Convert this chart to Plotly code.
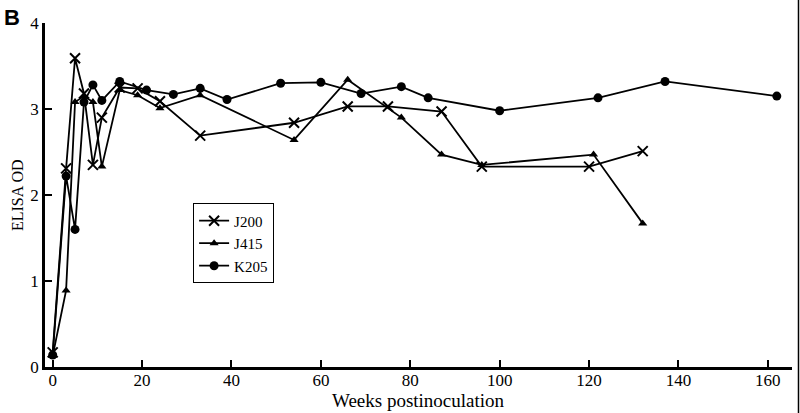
import plotly.graph_objects as go

# J200 (x markers)
j200_weeks = [0, 3, 5, 7, 9, 11, 15, 19, 24, 33, 54, 66, 75, 87, 96, 120, 132]
j200_od = [0.17, 2.31, 3.59, 3.18, 2.35, 2.90, 3.25, 3.24, 3.09, 2.69, 2.84, 3.03, 3.03, 2.97, 2.33, 2.33, 2.51]

# J415 (triangles)
j415_weeks = [0, 3, 5, 7, 9, 11, 15, 19, 24, 33, 54, 66, 78, 87, 96, 121, 132]
j415_od = [0.13, 0.89, 3.08, 3.15, 3.08, 2.33, 3.22, 3.16, 3.01, 3.16, 2.64, 3.34, 2.90, 2.47, 2.35, 2.47, 1.67]

# K205 (circles)
k205_weeks = [0, 3, 5, 7, 9, 11, 15, 21, 27, 33, 39, 51, 60, 69, 78, 84, 100, 122, 137, 162]
k205_od = [0.14, 2.22, 1.60, 3.08, 3.28, 3.10, 3.32, 3.22, 3.17, 3.24, 3.11, 3.30, 3.31, 3.18, 3.26, 3.13, 2.98, 3.13, 3.32, 3.15]

x_ticks = [0, 20, 40, 60, 80, 100, 120, 140, 160]
y_ticks = [0, 1, 2, 3, 4]

serif = "Liberation Serif"

fig = go.Figure()
fig.add_trace(go.Scatter(
    x=j200_weeks, y=j200_od, name="J200", mode="lines+markers",
    line=dict(color="black", width=1.8),
    marker=dict(symbol="x-thin", size=10, color="black", line=dict(color="black", width=2)),
))
fig.add_trace(go.Scatter(
    x=j415_weeks, y=j415_od, name="J415", mode="lines+markers",
    line=dict(color="black", width=1.8),
    marker=dict(symbol="triangle-up", size=8, color="black"),
))
fig.add_trace(go.Scatter(
    x=k205_weeks, y=k205_od, name="K205", mode="lines+markers",
    line=dict(color="black", width=1.8),
    marker=dict(symbol="circle", size=9, color="black"),
))

fig.update_layout(
    width=800, height=413,
    margin=dict(l=45, r=8, t=23, b=46, autoexpand=False),
    paper_bgcolor="white", plot_bgcolor="white",
    font=dict(family=serif, color="black", size=16),
    legend=dict(
        x=0.198, y=0.476, xanchor="left", yanchor="top",
        bordercolor="black", borderwidth=1.2, bgcolor="white",
        font=dict(family=serif, size=15, color="black"),
        tracegroupgap=0, itemwidth=30,
    ),
    annotations=[
        dict(
            text="<b>B</b>", x=0, y=1, xref="paper", yref="paper",
            xanchor="left", yanchor="top", xshift=-43, yshift=20, showarrow=False,
            font=dict(family="Liberation Sans", size=22, color="black"),
        ),
        dict(
            text="Weeks postinoculation", x=0.5, y=0, xref="paper", yref="paper",
            xanchor="center", yanchor="top", yshift=-21, showarrow=False,
            font=dict(family=serif, size=19, color="black"),
        ),
        dict(
            text="ELISA OD", x=0, y=0.5, xref="paper", yref="paper", textangle=-90,
            xanchor="center", yanchor="middle", xshift=-28, showarrow=False,
            font=dict(family=serif, size=16, color="black"),
        ),
    ],
    shapes=[dict(
        type="line", xref="paper", yref="paper",
        x0=1.0087, x1=1.0087, y0=-0.14, y1=1.07,
        line=dict(color="black", width=1.5),
    )],
)

fig.update_xaxes(
    range=[-1.72, 165.4], tickvals=x_ticks, ticktext=[str(v) for v in x_ticks],
    showline=True, linecolor="black", linewidth=2.5, mirror=False,
    ticks="inside", ticklen=7, tickwidth=2, tickcolor="black",
    showgrid=False, zeroline=False, automargin=False,
    tickfont=dict(family=serif, size=17), ticklabelstandoff=-4,
)
fig.update_yaxes(
    range=[0, 4.0], tickvals=y_ticks, ticktext=[str(v) for v in y_ticks],
    showline=True, linecolor="black", linewidth=2.5, mirror=False,
    ticks="inside", ticklen=7, tickwidth=2, tickcolor="black",
    showgrid=False, zeroline=False, automargin=False,
    tickfont=dict(family=serif, size=17),
)

fig.write_html("out.html", config={"displayModeBar": False},
               post_script="document.body.style.margin='0';")
